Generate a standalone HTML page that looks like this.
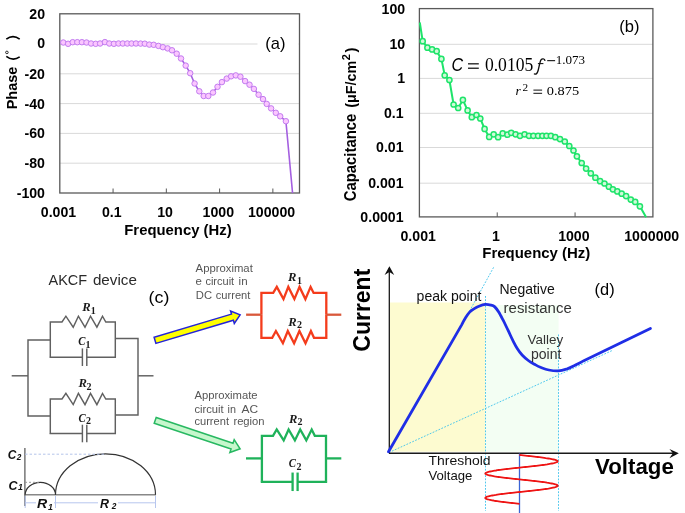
<!DOCTYPE html>
<html><head><meta charset="utf-8"><style>
html,body{margin:0;padding:0;background:#fff;}
svg{display:block;font-family:"Liberation Sans", sans-serif;will-change:transform;}
</style></head><body>
<svg width="685" height="513" viewBox="0 0 685 513">
<rect width="685" height="513" fill="#fff"/>
<line x1="59.8" y1="44.0" x2="299.5" y2="44.0" stroke="#d9d9d9" stroke-width="1" />
<line x1="59.8" y1="73.8" x2="299.5" y2="73.8" stroke="#d9d9d9" stroke-width="1" />
<line x1="59.8" y1="103.6" x2="299.5" y2="103.6" stroke="#d9d9d9" stroke-width="1" />
<line x1="59.8" y1="133.4" x2="299.5" y2="133.4" stroke="#d9d9d9" stroke-width="1" />
<line x1="59.8" y1="163.2" x2="299.5" y2="163.2" stroke="#d9d9d9" stroke-width="1" />
<rect x="257.5" y="32" width="41" height="24" fill="#fff"/>
<line x1="113.06666666666666" y1="193.0" x2="113.06666666666666" y2="188.5" stroke="#595959" stroke-width="1" />
<line x1="166.33333333333331" y1="193.0" x2="166.33333333333331" y2="188.5" stroke="#595959" stroke-width="1" />
<line x1="219.59999999999997" y1="193.0" x2="219.59999999999997" y2="188.5" stroke="#595959" stroke-width="1" />
<line x1="272.8666666666667" y1="193.0" x2="272.8666666666667" y2="188.5" stroke="#595959" stroke-width="1" />
<rect x="59.8" y="13.8" width="239.7" height="179.2" fill="none" stroke="#595959" stroke-width="1.3"/>
<clipPath id="ca"><rect x="59.8" y="13.8" width="239.7" height="179.2"/></clipPath>
<polyline points="59.8,42.5 63.3,42.5 68.1,43.8 72.7,42.2 77.3,42.2 81.9,42.2 86.5,42.5 91.1,43.5 95.7,43.8 100.1,43.5 104.9,42.1 109.3,43.5 113.9,43.8 118.5,43.5 122.8,43.5 127.3,43.5 131.6,43.5 136.0,43.5 140.6,43.6 144.8,43.7 149.3,44.6 153.7,44.8 158.4,45.9 162.9,47.2 167.6,48.4 172.0,50.3 176.7,53.7 181.0,58.5 185.7,65.6 190.2,73.2 194.6,83.5 199.3,91.3 203.7,96.0 208.3,96.0 213.0,92.5 217.5,86.8 221.9,82.1 226.7,78.6 231.1,76.3 235.8,75.4 240.4,76.7 245.1,81.1 249.5,84.7 253.9,88.9 258.6,94.7 263.0,99.1 266.7,103.9 271.1,108.4 275.8,112.8 280.2,116.3 285.9,121.2 293.2,200.0" fill="none" stroke="#a45fe0" stroke-width="1.6" clip-path="url(#ca)" stroke-linejoin="round"/>
<circle cx="63.3" cy="42.5" r="2.75" fill="#fbc6ff" stroke="#c27cf0" stroke-width="1"/>
<circle cx="68.1" cy="43.8" r="2.75" fill="#fbc6ff" stroke="#c27cf0" stroke-width="1"/>
<circle cx="72.7" cy="42.2" r="2.75" fill="#fbc6ff" stroke="#c27cf0" stroke-width="1"/>
<circle cx="77.3" cy="42.2" r="2.75" fill="#fbc6ff" stroke="#c27cf0" stroke-width="1"/>
<circle cx="81.9" cy="42.2" r="2.75" fill="#fbc6ff" stroke="#c27cf0" stroke-width="1"/>
<circle cx="86.5" cy="42.5" r="2.75" fill="#fbc6ff" stroke="#c27cf0" stroke-width="1"/>
<circle cx="91.1" cy="43.5" r="2.75" fill="#fbc6ff" stroke="#c27cf0" stroke-width="1"/>
<circle cx="95.7" cy="43.8" r="2.75" fill="#fbc6ff" stroke="#c27cf0" stroke-width="1"/>
<circle cx="100.1" cy="43.5" r="2.75" fill="#fbc6ff" stroke="#c27cf0" stroke-width="1"/>
<circle cx="104.9" cy="42.1" r="2.75" fill="#fbc6ff" stroke="#c27cf0" stroke-width="1"/>
<circle cx="109.3" cy="43.5" r="2.75" fill="#fbc6ff" stroke="#c27cf0" stroke-width="1"/>
<circle cx="113.9" cy="43.8" r="2.75" fill="#fbc6ff" stroke="#c27cf0" stroke-width="1"/>
<circle cx="118.5" cy="43.5" r="2.75" fill="#fbc6ff" stroke="#c27cf0" stroke-width="1"/>
<circle cx="122.8" cy="43.5" r="2.75" fill="#fbc6ff" stroke="#c27cf0" stroke-width="1"/>
<circle cx="127.3" cy="43.5" r="2.75" fill="#fbc6ff" stroke="#c27cf0" stroke-width="1"/>
<circle cx="131.6" cy="43.5" r="2.75" fill="#fbc6ff" stroke="#c27cf0" stroke-width="1"/>
<circle cx="136" cy="43.5" r="2.75" fill="#fbc6ff" stroke="#c27cf0" stroke-width="1"/>
<circle cx="140.6" cy="43.6" r="2.75" fill="#fbc6ff" stroke="#c27cf0" stroke-width="1"/>
<circle cx="144.8" cy="43.7" r="2.75" fill="#fbc6ff" stroke="#c27cf0" stroke-width="1"/>
<circle cx="149.3" cy="44.6" r="2.75" fill="#fbc6ff" stroke="#c27cf0" stroke-width="1"/>
<circle cx="153.7" cy="44.8" r="2.75" fill="#fbc6ff" stroke="#c27cf0" stroke-width="1"/>
<circle cx="158.4" cy="45.9" r="2.75" fill="#fbc6ff" stroke="#c27cf0" stroke-width="1"/>
<circle cx="162.9" cy="47.2" r="2.75" fill="#fbc6ff" stroke="#c27cf0" stroke-width="1"/>
<circle cx="167.6" cy="48.4" r="2.75" fill="#fbc6ff" stroke="#c27cf0" stroke-width="1"/>
<circle cx="172" cy="50.3" r="2.75" fill="#fbc6ff" stroke="#c27cf0" stroke-width="1"/>
<circle cx="176.7" cy="53.7" r="2.75" fill="#fbc6ff" stroke="#c27cf0" stroke-width="1"/>
<circle cx="181" cy="58.5" r="2.75" fill="#fbc6ff" stroke="#c27cf0" stroke-width="1"/>
<circle cx="185.7" cy="65.6" r="2.75" fill="#fbc6ff" stroke="#c27cf0" stroke-width="1"/>
<circle cx="190.2" cy="73.2" r="2.75" fill="#fbc6ff" stroke="#c27cf0" stroke-width="1"/>
<circle cx="194.6" cy="83.5" r="2.75" fill="#fbc6ff" stroke="#c27cf0" stroke-width="1"/>
<circle cx="199.3" cy="91.3" r="2.75" fill="#fbc6ff" stroke="#c27cf0" stroke-width="1"/>
<circle cx="203.7" cy="96" r="2.75" fill="#fbc6ff" stroke="#c27cf0" stroke-width="1"/>
<circle cx="208.3" cy="96" r="2.75" fill="#fbc6ff" stroke="#c27cf0" stroke-width="1"/>
<circle cx="213" cy="92.5" r="2.75" fill="#fbc6ff" stroke="#c27cf0" stroke-width="1"/>
<circle cx="217.5" cy="86.8" r="2.75" fill="#fbc6ff" stroke="#c27cf0" stroke-width="1"/>
<circle cx="221.9" cy="82.1" r="2.75" fill="#fbc6ff" stroke="#c27cf0" stroke-width="1"/>
<circle cx="226.7" cy="78.6" r="2.75" fill="#fbc6ff" stroke="#c27cf0" stroke-width="1"/>
<circle cx="231.1" cy="76.3" r="2.75" fill="#fbc6ff" stroke="#c27cf0" stroke-width="1"/>
<circle cx="235.8" cy="75.4" r="2.75" fill="#fbc6ff" stroke="#c27cf0" stroke-width="1"/>
<circle cx="240.4" cy="76.7" r="2.75" fill="#fbc6ff" stroke="#c27cf0" stroke-width="1"/>
<circle cx="245.1" cy="81.1" r="2.75" fill="#fbc6ff" stroke="#c27cf0" stroke-width="1"/>
<circle cx="249.5" cy="84.7" r="2.75" fill="#fbc6ff" stroke="#c27cf0" stroke-width="1"/>
<circle cx="253.9" cy="88.9" r="2.75" fill="#fbc6ff" stroke="#c27cf0" stroke-width="1"/>
<circle cx="258.6" cy="94.7" r="2.75" fill="#fbc6ff" stroke="#c27cf0" stroke-width="1"/>
<circle cx="263" cy="99.1" r="2.75" fill="#fbc6ff" stroke="#c27cf0" stroke-width="1"/>
<circle cx="266.7" cy="103.9" r="2.75" fill="#fbc6ff" stroke="#c27cf0" stroke-width="1"/>
<circle cx="271.1" cy="108.4" r="2.75" fill="#fbc6ff" stroke="#c27cf0" stroke-width="1"/>
<circle cx="275.8" cy="112.8" r="2.75" fill="#fbc6ff" stroke="#c27cf0" stroke-width="1"/>
<circle cx="280.2" cy="116.3" r="2.75" fill="#fbc6ff" stroke="#c27cf0" stroke-width="1"/>
<circle cx="285.9" cy="121.2" r="2.75" fill="#fbc6ff" stroke="#c27cf0" stroke-width="1"/>
<text x="45" y="19.2" font-size="14.8" font-weight="bold" text-anchor="end" textLength="15.73" lengthAdjust="spacingAndGlyphs" >20</text>
<text x="45" y="48.0" font-size="14.8" font-weight="bold" text-anchor="end" textLength="7.86" lengthAdjust="spacingAndGlyphs" >0</text>
<text x="45" y="78.8" font-size="14.8" font-weight="bold" text-anchor="end" textLength="20.44" lengthAdjust="spacingAndGlyphs" >-20</text>
<text x="45" y="108.6" font-size="14.8" font-weight="bold" text-anchor="end" textLength="20.44" lengthAdjust="spacingAndGlyphs" >-40</text>
<text x="45" y="138.4" font-size="14.8" font-weight="bold" text-anchor="end" textLength="20.44" lengthAdjust="spacingAndGlyphs" >-60</text>
<text x="45" y="168.2" font-size="14.8" font-weight="bold" text-anchor="end" textLength="20.44" lengthAdjust="spacingAndGlyphs" >-80</text>
<text x="45" y="198.0" font-size="14.8" font-weight="bold" text-anchor="end" textLength="28.3" lengthAdjust="spacingAndGlyphs" >-100</text>
<text x="58.5" y="217.2" font-size="14.8" font-weight="bold" text-anchor="middle" textLength="35.38" lengthAdjust="spacingAndGlyphs" >0.001</text>
<text x="111.76666666666667" y="217.2" font-size="14.8" font-weight="bold" text-anchor="middle" textLength="19.66" lengthAdjust="spacingAndGlyphs" >0.1</text>
<text x="165.0333333333333" y="217.2" font-size="14.8" font-weight="bold" text-anchor="middle" textLength="15.73" lengthAdjust="spacingAndGlyphs" >10</text>
<text x="218.29999999999995" y="217.2" font-size="14.8" font-weight="bold" text-anchor="middle" textLength="31.46" lengthAdjust="spacingAndGlyphs" >1000</text>
<text x="271.56666666666666" y="217.2" font-size="14.8" font-weight="bold" text-anchor="middle" textLength="47.18" lengthAdjust="spacingAndGlyphs" >100000</text>
<text x="124.3" y="234.8" font-size="14.5" font-weight="bold" textLength="107.3" lengthAdjust="spacingAndGlyphs" >Frequency (Hz)</text>
<text x="0" y="0" font-size="15.5" font-weight="bold" textLength="42.6" lengthAdjust="spacingAndGlyphs" transform="translate(17.3,109.3) rotate(-90)">Phase</text>
<path d="M6.3,39.2 Q13,34 19.7,39.2" fill="none" stroke="#000" stroke-width="1.6"/>
<path d="M6.3,56.4 Q13,61.6 19.7,56.8" fill="none" stroke="#000" stroke-width="1.6"/>
<circle cx="6.9" cy="52.4" r="1.3" fill="none" stroke="#000" stroke-width="0.8"/>
<text x="265.2" y="49.2" font-size="17" textLength="20.2" lengthAdjust="spacingAndGlyphs" >(a)</text>
<line x1="419.4" y1="44.3" x2="652.9" y2="44.3" stroke="#d9d9d9" stroke-width="1" />
<line x1="419.4" y1="78.4" x2="652.9" y2="78.4" stroke="#d9d9d9" stroke-width="1" />
<line x1="419.4" y1="113.3" x2="652.9" y2="113.3" stroke="#d9d9d9" stroke-width="1" />
<line x1="419.4" y1="147.5" x2="652.9" y2="147.5" stroke="#d9d9d9" stroke-width="1" />
<line x1="419.4" y1="183.2" x2="652.9" y2="183.2" stroke="#d9d9d9" stroke-width="1" />
<line x1="497.2333333333333" y1="216.9" x2="497.2333333333333" y2="212.4" stroke="#595959" stroke-width="1" />
<line x1="575.0666666666666" y1="216.9" x2="575.0666666666666" y2="212.4" stroke="#595959" stroke-width="1" />
<rect x="419.4" y="8.6" width="233.5" height="208.3" fill="none" stroke="#595959" stroke-width="1.3"/>
<polyline points="419.8,22.5 422.7,41.2 427.4,47.7 432.1,49.4 436.7,51.2 441.4,58.9 444.7,75.3 449.4,80.0 453.6,104.5 458.2,108.0 462.9,99.9 467.6,110.4 471.8,117.2 476.5,115.0 480.3,118.5 484.6,128.9 489.2,136.9 493.7,134.3 498.1,137.2 502.7,133.3 507.4,134.7 511.2,132.8 515.6,134.3 520.0,135.8 524.6,134.3 529.0,135.8 533.4,135.8 538.1,135.8 542.4,135.8 546.5,135.8 550.9,135.8 555.3,137.2 560.0,139.1 564.8,141.5 569.3,146.0 573.5,150.5 576.9,156.3 581.7,163.0 586.1,168.6 590.8,173.3 595.4,177.7 600.1,181.2 604.5,183.5 608.9,186.7 612.9,189.3 617.3,191.4 621.7,193.7 626.1,196.1 630.8,199.6 635.2,201.9 639.9,206.3 646.1,217.2" fill="none" stroke="#1ee46a" stroke-width="2" stroke-linejoin="round"/>
<circle cx="422.7" cy="41.2" r="2.6" fill="#d0f9d8" stroke="#1ee46a" stroke-width="1.5"/>
<circle cx="427.4" cy="47.7" r="2.6" fill="#d0f9d8" stroke="#1ee46a" stroke-width="1.5"/>
<circle cx="432.1" cy="49.4" r="2.6" fill="#d0f9d8" stroke="#1ee46a" stroke-width="1.5"/>
<circle cx="436.7" cy="51.2" r="2.6" fill="#d0f9d8" stroke="#1ee46a" stroke-width="1.5"/>
<circle cx="441.4" cy="58.9" r="2.6" fill="#d0f9d8" stroke="#1ee46a" stroke-width="1.5"/>
<circle cx="444.7" cy="75.3" r="2.6" fill="#d0f9d8" stroke="#1ee46a" stroke-width="1.5"/>
<circle cx="449.4" cy="80" r="2.6" fill="#d0f9d8" stroke="#1ee46a" stroke-width="1.5"/>
<circle cx="453.6" cy="104.5" r="2.6" fill="#d0f9d8" stroke="#1ee46a" stroke-width="1.5"/>
<circle cx="458.2" cy="108" r="2.6" fill="#d0f9d8" stroke="#1ee46a" stroke-width="1.5"/>
<circle cx="462.9" cy="99.9" r="2.6" fill="#d0f9d8" stroke="#1ee46a" stroke-width="1.5"/>
<circle cx="467.6" cy="110.4" r="2.6" fill="#d0f9d8" stroke="#1ee46a" stroke-width="1.5"/>
<circle cx="471.8" cy="117.2" r="2.6" fill="#d0f9d8" stroke="#1ee46a" stroke-width="1.5"/>
<circle cx="476.5" cy="115" r="2.6" fill="#d0f9d8" stroke="#1ee46a" stroke-width="1.5"/>
<circle cx="480.3" cy="118.5" r="2.6" fill="#d0f9d8" stroke="#1ee46a" stroke-width="1.5"/>
<circle cx="484.6" cy="128.9" r="2.6" fill="#d0f9d8" stroke="#1ee46a" stroke-width="1.5"/>
<circle cx="489.2" cy="136.9" r="2.6" fill="#d0f9d8" stroke="#1ee46a" stroke-width="1.5"/>
<circle cx="493.7" cy="134.3" r="2.6" fill="#d0f9d8" stroke="#1ee46a" stroke-width="1.5"/>
<circle cx="498.1" cy="137.2" r="2.6" fill="#d0f9d8" stroke="#1ee46a" stroke-width="1.5"/>
<circle cx="502.7" cy="133.3" r="2.6" fill="#d0f9d8" stroke="#1ee46a" stroke-width="1.5"/>
<circle cx="507.4" cy="134.7" r="2.6" fill="#d0f9d8" stroke="#1ee46a" stroke-width="1.5"/>
<circle cx="511.2" cy="132.8" r="2.6" fill="#d0f9d8" stroke="#1ee46a" stroke-width="1.5"/>
<circle cx="515.6" cy="134.3" r="2.6" fill="#d0f9d8" stroke="#1ee46a" stroke-width="1.5"/>
<circle cx="520" cy="135.8" r="2.6" fill="#d0f9d8" stroke="#1ee46a" stroke-width="1.5"/>
<circle cx="524.6" cy="134.3" r="2.6" fill="#d0f9d8" stroke="#1ee46a" stroke-width="1.5"/>
<circle cx="529" cy="135.8" r="2.6" fill="#d0f9d8" stroke="#1ee46a" stroke-width="1.5"/>
<circle cx="533.4" cy="135.8" r="2.6" fill="#d0f9d8" stroke="#1ee46a" stroke-width="1.5"/>
<circle cx="538.1" cy="135.8" r="2.6" fill="#d0f9d8" stroke="#1ee46a" stroke-width="1.5"/>
<circle cx="542.4" cy="135.8" r="2.6" fill="#d0f9d8" stroke="#1ee46a" stroke-width="1.5"/>
<circle cx="546.5" cy="135.8" r="2.6" fill="#d0f9d8" stroke="#1ee46a" stroke-width="1.5"/>
<circle cx="550.9" cy="135.8" r="2.6" fill="#d0f9d8" stroke="#1ee46a" stroke-width="1.5"/>
<circle cx="555.3" cy="137.2" r="2.6" fill="#d0f9d8" stroke="#1ee46a" stroke-width="1.5"/>
<circle cx="560" cy="139.1" r="2.6" fill="#d0f9d8" stroke="#1ee46a" stroke-width="1.5"/>
<circle cx="564.8" cy="141.5" r="2.6" fill="#d0f9d8" stroke="#1ee46a" stroke-width="1.5"/>
<circle cx="569.3" cy="146" r="2.6" fill="#d0f9d8" stroke="#1ee46a" stroke-width="1.5"/>
<circle cx="573.5" cy="150.5" r="2.6" fill="#d0f9d8" stroke="#1ee46a" stroke-width="1.5"/>
<circle cx="576.9" cy="156.3" r="2.6" fill="#d0f9d8" stroke="#1ee46a" stroke-width="1.5"/>
<circle cx="581.7" cy="163" r="2.6" fill="#d0f9d8" stroke="#1ee46a" stroke-width="1.5"/>
<circle cx="586.1" cy="168.6" r="2.6" fill="#d0f9d8" stroke="#1ee46a" stroke-width="1.5"/>
<circle cx="590.8" cy="173.3" r="2.6" fill="#d0f9d8" stroke="#1ee46a" stroke-width="1.5"/>
<circle cx="595.4" cy="177.7" r="2.6" fill="#d0f9d8" stroke="#1ee46a" stroke-width="1.5"/>
<circle cx="600.1" cy="181.2" r="2.6" fill="#d0f9d8" stroke="#1ee46a" stroke-width="1.5"/>
<circle cx="604.5" cy="183.5" r="2.6" fill="#d0f9d8" stroke="#1ee46a" stroke-width="1.5"/>
<circle cx="608.9" cy="186.7" r="2.6" fill="#d0f9d8" stroke="#1ee46a" stroke-width="1.5"/>
<circle cx="612.9" cy="189.3" r="2.6" fill="#d0f9d8" stroke="#1ee46a" stroke-width="1.5"/>
<circle cx="617.3" cy="191.4" r="2.6" fill="#d0f9d8" stroke="#1ee46a" stroke-width="1.5"/>
<circle cx="621.7" cy="193.7" r="2.6" fill="#d0f9d8" stroke="#1ee46a" stroke-width="1.5"/>
<circle cx="626.1" cy="196.1" r="2.6" fill="#d0f9d8" stroke="#1ee46a" stroke-width="1.5"/>
<circle cx="630.8" cy="199.6" r="2.6" fill="#d0f9d8" stroke="#1ee46a" stroke-width="1.5"/>
<circle cx="635.2" cy="201.9" r="2.6" fill="#d0f9d8" stroke="#1ee46a" stroke-width="1.5"/>
<circle cx="639.9" cy="206.3" r="2.6" fill="#d0f9d8" stroke="#1ee46a" stroke-width="1.5"/>
<text x="405.2" y="13.5" font-size="14.8" font-weight="bold" text-anchor="end" textLength="23.59" lengthAdjust="spacingAndGlyphs" >100</text>
<text x="405.2" y="49.199999999999996" font-size="14.8" font-weight="bold" text-anchor="end" textLength="15.73" lengthAdjust="spacingAndGlyphs" >10</text>
<text x="405.2" y="83.30000000000001" font-size="14.8" font-weight="bold" text-anchor="end" textLength="7.86" lengthAdjust="spacingAndGlyphs" >1</text>
<text x="403.6" y="118.2" font-size="14.8" font-weight="bold" text-anchor="end" textLength="19.66" lengthAdjust="spacingAndGlyphs" >0.1</text>
<text x="403.6" y="152.4" font-size="14.8" font-weight="bold" text-anchor="end" textLength="27.52" lengthAdjust="spacingAndGlyphs" >0.01</text>
<text x="403.6" y="188.1" font-size="14.8" font-weight="bold" text-anchor="end" textLength="35.38" lengthAdjust="spacingAndGlyphs" >0.001</text>
<text x="403.6" y="221.8" font-size="14.8" font-weight="bold" text-anchor="end" textLength="43.25" lengthAdjust="spacingAndGlyphs" >0.0001</text>
<text x="418.2" y="240.9" font-size="14.8" font-weight="bold" text-anchor="middle" textLength="35.38" lengthAdjust="spacingAndGlyphs" >0.001</text>
<text x="496.0333333333333" y="240.9" font-size="14.8" font-weight="bold" text-anchor="middle" textLength="7.86" lengthAdjust="spacingAndGlyphs" >1</text>
<text x="573.8666666666666" y="240.9" font-size="14.8" font-weight="bold" text-anchor="middle" textLength="31.46" lengthAdjust="spacingAndGlyphs" >1000</text>
<text x="651.6999999999999" y="240.9" font-size="14.8" font-weight="bold" text-anchor="middle" textLength="55.05" lengthAdjust="spacingAndGlyphs" >1000000</text>
<text x="482.3" y="258.1" font-size="14.5" font-weight="bold" textLength="108" lengthAdjust="spacingAndGlyphs" >Frequency (Hz)</text>
<g transform="translate(356.1,201.3) rotate(-90)" font-weight="bold"><text x="0" y="0" font-size="15.8" textLength="87.6" lengthAdjust="spacingAndGlyphs">Capacitance</text><text x="93.6" y="0" font-size="15" textLength="47" lengthAdjust="spacingAndGlyphs">(μF/cm</text><text x="141" y="-6.6" font-size="11">2</text><text x="148.8" y="0" font-size="15">)</text></g>
<text x="619.3" y="32.3" font-size="17" textLength="20.2" lengthAdjust="spacingAndGlyphs" >(b)</text>
<text x="451.6" y="70.6" font-size="17.5" font-style="italic" textLength="11.6" lengthAdjust="spacingAndGlyphs">C</text>
<rect x="468" y="63.2" width="10.8" height="1.25" fill="#111"/><rect x="468" y="67.6" width="10.8" height="1.25" fill="#111"/>
<text x="484.9" y="70.8" font-size="18" font-family='"Liberation Serif", serif' textLength="48.4" lengthAdjust="spacingAndGlyphs">0.0105</text>
<path d="M544.9,60.3 C544.6,58.6 542.2,58.2 541,59.9 C539.9,61.6 539.2,66.5 538.2,70.2 C537.4,73.2 536.2,74.6 534.4,73.9" fill="none" stroke="#111" stroke-width="1.35" stroke-linecap="round"/>
<path d="M537.9,63.6 L543.4,63.6" stroke="#111" stroke-width="1.05"/>
<rect x="547.2" y="60.1" width="7.9" height="1.1" fill="#111"/>
<text x="555.7" y="63.9" font-size="13.2" font-family='"Liberation Serif", serif' textLength="29.4" lengthAdjust="spacingAndGlyphs">1.073</text>
<text x="515.4" y="95.2" font-size="13.4" font-style="italic" font-family='"Liberation Serif", serif'>r</text>
<text x="522.5" y="91" font-size="10" font-family='"Liberation Serif", serif' textLength="5.6" lengthAdjust="spacingAndGlyphs">2</text>
<rect x="533.4" y="89.6" width="8.7" height="1" fill="#111"/><rect x="533.4" y="92.8" width="8.7" height="1" fill="#111"/>
<text x="546.8" y="95.1" font-size="13" font-family='"Liberation Serif", serif' textLength="32.3" lengthAdjust="spacingAndGlyphs">0.875</text>
<text x="48.5" y="284.7" font-size="15" fill="#2a2a2a" textLength="38.6" lengthAdjust="spacingAndGlyphs" >AKCF</text>
<text x="92.9" y="284.7" font-size="15" fill="#2a2a2a" textLength="44" lengthAdjust="spacingAndGlyphs" >device</text>
<text x="148.6" y="303.4" font-size="17.4" textLength="20.8" lengthAdjust="spacingAndGlyphs" >(c)</text>
<polyline points="50.3,357.2 50.3,322.0 62.0,322.0 65.9,316.2 73.2,327.2 78.4,316.2 85.0,327.2 90.5,316.2 96.9,327.2 102.5,316.2 105.8,322.0 115.3,322.0 115.3,357.2" fill="none" stroke="#606060" stroke-width="1.45" stroke-linejoin="miter"/>
<polyline points="50.3,356.7 50.3,357.2 82.4,357.2" fill="none" stroke="#606060" stroke-width="1.45"/>
<polyline points="86.8,357.2 115.3,357.2 115.3,356.7" fill="none" stroke="#606060" stroke-width="1.45"/>
<line x1="82.39999999999999" y1="348.4" x2="82.39999999999999" y2="366.0" stroke="#606060" stroke-width="1.45" />
<line x1="86.8" y1="348.4" x2="86.8" y2="366.0" stroke="#606060" stroke-width="1.45" />
<polyline points="50.3,433.5 50.3,399.0 62.0,399.0 65.9,393.4 73.2,404.6 78.4,393.4 85.0,404.6 90.5,393.4 96.9,404.6 102.5,393.4 105.8,399.0 115.3,399.0 115.3,433.5" fill="none" stroke="#606060" stroke-width="1.45" stroke-linejoin="miter"/>
<polyline points="50.3,433.0 50.3,433.5 82.4,433.5" fill="none" stroke="#606060" stroke-width="1.45"/>
<polyline points="86.8,433.5 115.3,433.5 115.3,433.0" fill="none" stroke="#606060" stroke-width="1.45"/>
<line x1="82.39999999999999" y1="424.7" x2="82.39999999999999" y2="442.3" stroke="#606060" stroke-width="1.45" />
<line x1="86.8" y1="424.7" x2="86.8" y2="442.3" stroke="#606060" stroke-width="1.45" />
<polyline points="50.3,340.0 28.0,340.0 28.0,416.0 50.2,416.0" fill="none" stroke="#606060" stroke-width="1.45"/>
<polyline points="115.3,338.4 138.0,338.4 138.0,415.0 115.2,415.0" fill="none" stroke="#606060" stroke-width="1.45"/>
<line x1="11.7" y1="375.8" x2="28" y2="375.8" stroke="#606060" stroke-width="1.45" />
<line x1="138" y1="375.8" x2="153.5" y2="375.8" stroke="#606060" stroke-width="1.45" />
<text x="82.2" y="311.1" font-size="12.9" font-weight="bold" font-style="italic" font-family='"Liberation Serif", serif' fill="#1a1a1a" textLength="8.4" lengthAdjust="spacingAndGlyphs">R</text>
<text x="90.8" y="314" font-size="10" font-weight="bold" font-family='"Liberation Serif", serif' fill="#1a1a1a">1</text>
<text x="78.3" y="344.8" font-size="12.9" font-weight="bold" font-style="italic" font-family='"Liberation Serif", serif' fill="#1a1a1a" textLength="7.2" lengthAdjust="spacingAndGlyphs">C</text>
<text x="85.6" y="347.5" font-size="10" font-weight="bold" font-family='"Liberation Serif", serif' fill="#1a1a1a">1</text>
<text x="78.6" y="386.9" font-size="12.9" font-weight="bold" font-style="italic" font-family='"Liberation Serif", serif' fill="#1a1a1a" textLength="8.4" lengthAdjust="spacingAndGlyphs">R</text>
<text x="86.5" y="389.5" font-size="10" font-weight="bold" font-family='"Liberation Serif", serif' fill="#1a1a1a">2</text>
<text x="78.5" y="421.8" font-size="12.9" font-weight="bold" font-style="italic" font-family='"Liberation Serif", serif' fill="#1a1a1a" textLength="7.2" lengthAdjust="spacingAndGlyphs">C</text>
<text x="85.9" y="424" font-size="10" font-weight="bold" font-family='"Liberation Serif", serif' fill="#1a1a1a">2</text>
<line x1="24.9" y1="448" x2="24.9" y2="506" stroke="#555" stroke-width="1.2"/>
<line x1="24.9" y1="494.8" x2="156" y2="494.8" stroke="#888" stroke-width="1.5"/>
<path d="M25.2,494.8 A15.15,12.5 0 0 1 55.5,494.8" fill="none" stroke="#333" stroke-width="1.2"/>
<path d="M55.5,494.8 A50,41 0 0 1 155.5,494.8" fill="none" stroke="#333" stroke-width="1.2"/>
<line x1="25" y1="454.2" x2="105" y2="454.2" stroke="#b4c4ea" stroke-width="1" stroke-dasharray="2.5,2"/>
<line x1="25" y1="482.3" x2="40" y2="482.3" stroke="#999" stroke-width="1" stroke-dasharray="2,2"/>
<line x1="25" y1="502.8" x2="155.5" y2="502.8" stroke="#b7c6ee" stroke-width="1"/>
<line x1="25.2" y1="496" x2="25.2" y2="508" stroke="#b7c6ee" stroke-width="1" />
<line x1="55.5" y1="496" x2="55.5" y2="508" stroke="#b7c6ee" stroke-width="1" />
<line x1="155.5" y1="496" x2="155.5" y2="508" stroke="#b7c6ee" stroke-width="1" />
<rect x="36" y="497" width="18" height="13" fill="#fff"/>
<rect x="98" y="497" width="20" height="13" fill="#fff"/>
<text x="7.7" y="458.8" font-size="13" font-weight="bold" font-style="italic" fill="#111" textLength="8.6" lengthAdjust="spacingAndGlyphs">C</text>
<text x="16.8" y="460" font-size="8.2" font-weight="bold" font-style="italic" fill="#111">2</text>
<text x="8.4" y="489.9" font-size="13" font-weight="bold" font-style="italic" fill="#111" textLength="9.0" lengthAdjust="spacingAndGlyphs">C</text>
<text x="17.9" y="490.4" font-size="8.8" font-weight="bold" font-style="italic" fill="#111">1</text>
<text x="37.0" y="507.8" font-size="13" font-weight="bold" font-style="italic" fill="#111" textLength="10.2" lengthAdjust="spacingAndGlyphs">R</text>
<text x="48.1" y="509.7" font-size="8.8" font-weight="bold" font-style="italic" fill="#111">1</text>
<text x="99.9" y="508.2" font-size="13" font-weight="bold" font-style="italic" fill="#111" textLength="9.0" lengthAdjust="spacingAndGlyphs">R</text>
<text x="111.8" y="509" font-size="8.3" font-weight="bold" font-style="italic" fill="#111">2</text>
<polygon points="155.9,343.4 233.4,320.3 234.3,323.4 240.1,314.9 230.6,311.0 231.5,314.1 154.1,337.2" fill="#ffff00" stroke="#2424d8" stroke-width="1.5" stroke-linejoin="miter"/>
<polygon points="154.2,423.3 231.1,449.0 229.9,452.5 240.1,448.8 234.2,439.7 233.0,443.2 156.2,417.5" fill="#c6f7cc" stroke="#28b862" stroke-width="1.5" stroke-linejoin="miter"/>
<text x="195.6" y="271.5" font-size="11.2" fill="#555" textLength="57.2" lengthAdjust="spacingAndGlyphs" >Approximat</text>
<text x="195.6" y="285.1" font-size="11.2" fill="#555" textLength="6.4" lengthAdjust="spacingAndGlyphs" >e</text>
<text x="205.4" y="285.1" font-size="11.2" fill="#555" textLength="28.8" lengthAdjust="spacingAndGlyphs" >circuit</text>
<text x="238.6" y="285.1" font-size="11.2" fill="#555" textLength="9.0" lengthAdjust="spacingAndGlyphs" >in</text>
<text x="195.8" y="299" font-size="11.2" fill="#555" textLength="16.2" lengthAdjust="spacingAndGlyphs" >DC</text>
<text x="215.8" y="299" font-size="11.2" fill="#555" textLength="34.6" lengthAdjust="spacingAndGlyphs" >current</text>
<text x="194.4" y="398.9" font-size="11.2" fill="#555" textLength="63.2" lengthAdjust="spacingAndGlyphs" >Approximate</text>
<text x="194.4" y="412.5" font-size="11.2" fill="#555" textLength="29.2" lengthAdjust="spacingAndGlyphs" >circuit</text>
<text x="227.6" y="412.5" font-size="11.2" fill="#555" textLength="8.4" lengthAdjust="spacingAndGlyphs" >in</text>
<text x="241.6" y="412.5" font-size="11.2" fill="#555" textLength="16.6" lengthAdjust="spacingAndGlyphs" >AC</text>
<text x="194.4" y="425.3" font-size="11.2" fill="#555" textLength="34.6" lengthAdjust="spacingAndGlyphs" >current</text>
<text x="233.4" y="425.3" font-size="11.2" fill="#555" textLength="31.2" lengthAdjust="spacingAndGlyphs" >region</text>
<polyline points="261.4,314.7 261.4,292.9 273.2,292.9 276.8,286.9 283.5,299.1 288.3,286.9 294.4,299.1 299.5,286.9 305.4,299.1 310.6,286.9 313.6,292.9 326.3,292.9 326.3,314.7" fill="none" stroke="#f43c1c" stroke-width="2.3" stroke-linejoin="miter"/>
<polyline points="261.4,314.7 261.4,337.8 272.2,337.8 275.9,331.0 282.9,343.2 287.8,331.0 294.1,343.2 299.4,331.0 305.5,343.2 310.9,331.0 314.0,337.8 326.3,337.8 326.3,314.7" fill="none" stroke="#f43c1c" stroke-width="2.3" stroke-linejoin="miter"/>
<line x1="246.1" y1="314.7" x2="261.4" y2="314.7" stroke="#d9583a" stroke-width="2.3" />
<line x1="326.3" y1="314.7" x2="341.3" y2="314.7" stroke="#d9583a" stroke-width="2.3" />
<text x="288.1" y="281.1" font-size="12.9" font-weight="bold" font-style="italic" font-family='"Liberation Serif", serif' fill="#1a1a1a" textLength="8.4" lengthAdjust="spacingAndGlyphs">R</text>
<text x="296.9" y="284.2" font-size="10" font-weight="bold" font-family='"Liberation Serif", serif' fill="#1a1a1a">1</text>
<text x="288.3" y="325.8" font-size="12.9" font-weight="bold" font-style="italic" font-family='"Liberation Serif", serif' fill="#1a1a1a" textLength="8.4" lengthAdjust="spacingAndGlyphs">R</text>
<text x="297.1" y="328.4" font-size="10" font-weight="bold" font-family='"Liberation Serif", serif' fill="#1a1a1a">2</text>
<polyline points="261.9,481.8 261.9,435.8 273.0,435.8 276.7,429.5 283.7,440.4 288.6,429.5 294.9,440.4 300.2,429.5 306.3,440.4 311.7,429.5 314.8,435.8 326.0,435.8 326.0,481.8" fill="none" stroke="#1fb25a" stroke-width="2.3" stroke-linejoin="miter"/>
<polyline points="261.9,481.3 261.9,481.8 292.6,481.8" fill="none" stroke="#1fb25a" stroke-width="2.3"/>
<polyline points="297.6,481.8 326.0,481.8 326.0,481.3" fill="none" stroke="#1fb25a" stroke-width="2.3"/>
<line x1="292.6" y1="472.55" x2="292.6" y2="491.05" stroke="#1fb25a" stroke-width="2.3" />
<line x1="297.6" y1="472.55" x2="297.6" y2="491.05" stroke="#1fb25a" stroke-width="2.3" />
<line x1="246" y1="458.4" x2="261.9" y2="458.4" stroke="#1fb25a" stroke-width="2.3" />
<line x1="326" y1="458.4" x2="341.3" y2="458.4" stroke="#1fb25a" stroke-width="2.3" />
<text x="289.0" y="422.9" font-size="12.9" font-weight="bold" font-style="italic" font-family='"Liberation Serif", serif' fill="#1a1a1a" textLength="8.4" lengthAdjust="spacingAndGlyphs">R</text>
<text x="297.6" y="425.1" font-size="10" font-weight="bold" font-family='"Liberation Serif", serif' fill="#1a1a1a">2</text>
<text x="288.7" y="466.8" font-size="12.9" font-weight="bold" font-style="italic" font-family='"Liberation Serif", serif' fill="#1a1a1a" textLength="7.2" lengthAdjust="spacingAndGlyphs">C</text>
<text x="296.5" y="469.7" font-size="10" font-weight="bold" font-family='"Liberation Serif", serif' fill="#1a1a1a">2</text>
<rect x="389.9" y="302.5" width="95.6" height="149.2" fill="#fdfbd0"/>
<rect x="485.5" y="305" width="73.1" height="146.7" fill="#f3fef3"/>
<line x1="485.5" y1="296" x2="485.5" y2="511" stroke="#3cc2ec" stroke-width="0.9" stroke-dasharray="1.8,1.4"/>
<line x1="558.5" y1="334.5" x2="558.5" y2="511" stroke="#3cc2ec" stroke-width="0.9" stroke-dasharray="1.8,1.4"/>
<line x1="389" y1="452.5" x2="612" y2="350.6" stroke="#3cc2ec" stroke-width="0.9" stroke-dasharray="1.8,1.4"/>
<line x1="469.6" y1="311" x2="494.3" y2="266.1" stroke="#3cc2ec" stroke-width="0.9" stroke-dasharray="1.8,1.4"/>
<line x1="389.3" y1="268" x2="389.3" y2="453" stroke="#111" stroke-width="1.25"/>
<polygon points="389.4,266.2 394.2,275 389.4,272 384.6,275" fill="#111"/>
<line x1="389" y1="453.2" x2="675" y2="453.2" stroke="#1a1a1a" stroke-width="1.4"/>
<polygon points="678.8,453.3 669.4,448.9 672.9,453.3 669.4,458.2" fill="#111"/>
<line x1="519.5" y1="453.5" x2="519.5" y2="513" stroke="#3a64d6" stroke-width="1.3"/>
<polyline points="519.5,455.0 521.4,455.2 523.3,455.4 525.2,455.6 527.1,455.8 528.9,456.0 530.8,456.2 532.6,456.4 534.4,456.6 536.1,456.8 537.8,457.0 539.5,457.2 541.1,457.4 542.7,457.6 544.2,457.8 545.7,458.1 547.0,458.3 548.3,458.5 549.6,458.7 550.7,458.9 551.8,459.1 552.8,459.3 553.7,459.5 554.5,459.7 555.3,459.9 555.9,460.1 556.4,460.3 556.9,460.5 557.2,460.7 557.5,460.9 557.6,461.1 557.7,461.3 557.7,461.5 557.5,461.7 557.3,461.9 556.9,462.1 556.5,462.3 556.0,462.5 555.3,462.7 554.6,462.9 553.8,463.1 552.9,463.3 551.9,463.5 550.8,463.7 549.7,463.9 548.5,464.1 547.2,464.4 545.8,464.6 544.4,464.8 542.9,465.0 541.3,465.2 539.7,465.4 538.0,465.6 536.3,465.8 534.6,466.0 532.8,466.2 531.0,466.4 529.1,466.6 527.3,466.8 525.4,467.0 523.5,467.2 521.6,467.4 519.7,467.6 517.8,467.8 515.9,468.0 514.1,468.2 512.2,468.4 510.4,468.6 508.6,468.8 506.9,469.0 505.2,469.2 503.5,469.4 501.9,469.6 500.3,469.8 498.8,470.0 497.3,470.2 496.0,470.5 494.7,470.7 493.4,470.9 492.3,471.1 491.2,471.3 490.2,471.5 489.3,471.7 488.5,471.9 487.7,472.1 487.1,472.3 486.6,472.5 486.1,472.7 485.8,472.9 485.5,473.1 485.4,473.3 485.3,473.5 485.3,473.7 485.5,473.9 485.7,474.1 486.1,474.3 486.5,474.5 487.0,474.7 487.7,474.9 488.4,475.1 489.2,475.3 490.1,475.5 491.1,475.7 492.2,475.9 493.3,476.1 494.5,476.4 495.8,476.6 497.2,476.8 498.6,477.0 500.1,477.2 501.7,477.4 503.3,477.6 505.0,477.8 506.7,478.0 508.4,478.2 510.2,478.4 512.0,478.6 513.9,478.8 515.7,479.0 517.6,479.2 519.5,479.4 521.4,479.6 523.3,479.8 525.2,480.0 527.1,480.2 528.9,480.4 530.8,480.6 532.6,480.8 534.4,481.0 536.1,481.2 537.8,481.4 539.5,481.6 541.1,481.8 542.7,482.0 544.2,482.2 545.7,482.4 547.0,482.7 548.3,482.9 549.6,483.1 550.7,483.3 551.8,483.5 552.8,483.7 553.7,483.9 554.5,484.1 555.3,484.3 555.9,484.5 556.4,484.7 556.9,484.9 557.2,485.1 557.5,485.3 557.6,485.5 557.7,485.7 557.7,485.9 557.5,486.1 557.3,486.3 556.9,486.5 556.5,486.7 556.0,486.9 555.3,487.1 554.6,487.3 553.8,487.5 552.9,487.7 551.9,487.9 550.8,488.1 549.7,488.3 548.5,488.6 547.2,488.8 545.8,489.0 544.4,489.2 542.9,489.4 541.3,489.6 539.7,489.8 538.0,490.0 536.3,490.2 534.6,490.4 532.8,490.6 531.0,490.8 529.1,491.0 527.3,491.2 525.4,491.4 523.5,491.6 521.6,491.8 519.7,492.0 517.8,492.2 515.9,492.4 514.1,492.6 512.2,492.8 510.4,493.0 508.6,493.2 506.9,493.4 505.2,493.6 503.5,493.8 501.9,494.0 500.3,494.2 498.8,494.4 497.3,494.6 496.0,494.9 494.7,495.1 493.4,495.3 492.3,495.5 491.2,495.7 490.2,495.9 489.3,496.1 488.5,496.3 487.7,496.5 487.1,496.7 486.6,496.9 486.1,497.1 485.8,497.3 485.5,497.5 485.4,497.7 485.3,497.9 485.3,498.1 485.5,498.3 485.7,498.5 486.1,498.7 486.5,498.9 487.0,499.1 487.7,499.3 488.4,499.5 489.2,499.7 490.1,499.9 491.1,500.1 492.2,500.3 493.3,500.5 494.5,500.8 495.8,501.0 497.2,501.2 498.6,501.4 500.1,501.6 501.7,501.8 503.3,502.0 505.0,502.2 506.7,502.4 508.4,502.6 510.2,502.8 512.0,503.0 513.9,503.2 515.7,503.4 517.6,503.6 519.5,503.8" fill="none" stroke="#ee1414" stroke-width="1.8"/>
<path d="M388.5,451.8 L461.8,324.6 " fill="none"/>
<path d="M388.5,451.8 L461.8,324.6 C462.4,323.4 464.4,319.7 465.7,317.6 C467.0,315.5 468.2,313.6 469.6,312.1 C471.0,310.6 472.7,309.6 474.3,308.6 C475.9,307.6 477.2,306.9 479.0,306.2 C480.8,305.5 483.2,304.6 485.2,304.4 C487.2,304.2 489.3,304.7 490.9,305.1 C492.5,305.5 493.5,305.7 494.8,306.9 C496.1,308.1 497.3,309.8 498.7,312.1 C500.1,314.4 501.8,317.7 503.4,320.7 C504.9,323.7 506.4,326.9 508.0,330.1 C509.6,333.4 511.1,337.1 512.7,340.2 C514.3,343.3 515.8,346.3 517.4,348.8 C519.0,351.3 520.3,353.1 522.1,355.0 C523.9,356.9 526.2,358.9 528.3,360.5 C530.4,362.1 532.5,363.2 534.5,364.3 C536.5,365.4 538.1,366.4 540.5,367.3 C542.9,368.2 545.8,369.4 548.8,370.0 C551.8,370.6 555.5,371.0 558.4,370.9 C561.3,370.8 563.5,370.1 566.3,369.2 C569.1,368.2 572.1,366.6 575.0,365.2 C577.9,363.8 582.3,361.5 583.8,360.8 L650.4,328.4" fill="none" stroke="#1f2ee6" stroke-width="2.8" stroke-linejoin="round" stroke-linecap="round"/>
<text x="0" y="0" font-size="23" font-weight="bold" textLength="83" lengthAdjust="spacingAndGlyphs" transform="translate(370,351.7) rotate(-90)">Current</text>
<text x="595.1" y="473.7" font-size="22.6" font-weight="bold" textLength="78.7" lengthAdjust="spacingAndGlyphs" >Voltage</text>
<text x="416.6" y="301" font-size="14" fill="#111" textLength="64.8" lengthAdjust="spacingAndGlyphs" >peak point</text>
<text x="499.5" y="294.4" font-size="13.9" fill="#111" textLength="55.2" lengthAdjust="spacingAndGlyphs" >Negative</text>
<text x="503.6" y="313" font-size="14" fill="#333" textLength="68.1" lengthAdjust="spacingAndGlyphs" >resistance</text>
<text x="527.6" y="343.6" font-size="13.5" fill="#333" textLength="35.5" lengthAdjust="spacingAndGlyphs" >Valley</text>
<text x="531" y="358.6" font-size="14" fill="#333" textLength="30.4" lengthAdjust="spacingAndGlyphs" >point</text>
<text x="428.5" y="464.5" font-size="13" fill="#111" textLength="62" lengthAdjust="spacingAndGlyphs" >Threshold</text>
<text x="428.5" y="480.1" font-size="13" fill="#111" textLength="43.8" lengthAdjust="spacingAndGlyphs" >Voltage</text>
<text x="594.6" y="295.2" font-size="17" textLength="20" lengthAdjust="spacingAndGlyphs" >(d)</text>
</svg>
</body></html>
